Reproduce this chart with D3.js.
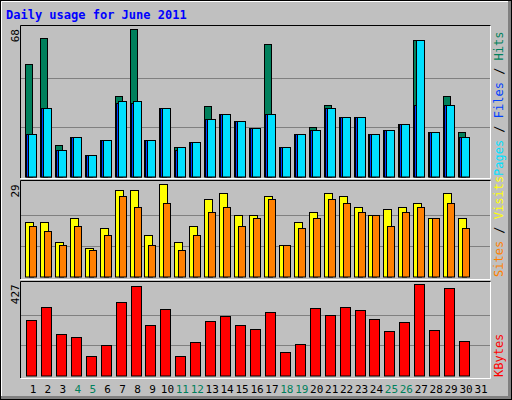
<!DOCTYPE html>
<html>
<head>
<meta charset="utf-8">
<script src="https://cdn.jsdelivr.net/npm/d3@7"></script>
<style>
  body { margin: 0; background: #fff; }
  text { font-family: 'DejaVu Sans Mono', monospace; }
</style>
</head>
<body>
<div id="chart"></div>
<script>
// daily values
const days = d3.range(1, 32)
const weekend = [4, 5, 11, 12, 18, 19, 25, 26]
const hits = [52, 64, 14.5, 18, 10, 17, 37, 68, 17, 31.5, 13.5, 16, 32.5, 29, 25.5, 22.3, 61, 13.5, 19.5, 23, 33, 27.4, 27.4, 19.5, 21.4, 24, 63, 20.5, 37, 20.5, 0]
const files = [19.5, 31.5, 12, 18, 10, 17, 34, 34, 17, 31.5, 12, 16, 26.5, 29, 25.5, 22.3, 29, 13.5, 19.5, 21.4, 31.5, 27.4, 27.4, 19.5, 21.4, 24, 33, 20.5, 33, 18, 0]
const pages = [19.5, 31.5, 12, 18, 10, 17, 35, 35, 17, 31.5, 13.5, 16, 26.5, 29, 25.5, 22.3, 29, 13.5, 19.5, 21.4, 31.5, 27.4, 27.4, 19.5, 21.4, 24, 63, 20.5, 33, 18, 0]
const visits = [17, 17, 11, 18.3, 9.1, 15.1, 27.1, 27.1, 13.2, 29, 11, 16, 24.3, 26.2, 19.2, 19.2, 25.2, 10, 17, 20.2, 26.2, 25.2, 22, 19.2, 21.1, 22, 23, 18.3, 26.2, 18.3, 0]
const sites = [16, 14.2, 10, 16, 8.2, 13.2, 25.2, 22, 10, 23, 8.2, 13.2, 20.2, 22, 16, 18.3, 24.3, 10, 15.1, 18.3, 24.3, 23, 20.2, 19.2, 16, 20.2, 22, 18.3, 23, 15.1, 0]
const kbytes = [258, 319, 192, 178, 89, 141, 342, 418, 235, 310, 89, 155, 253, 277, 235, 216, 295, 108, 146, 314, 282, 319, 305, 263, 207, 249, 427, 211, 412, 160, 0]

const W = 512, H = 400
const svg = d3.select('#chart').append('svg').attr('width', W).attr('height', H)

// frame
svg.append('rect').attr('x', 0).attr('y', 0).attr('width', W).attr('height', H).attr('fill', '#808080')
svg.append('rect').attr('x', 0).attr('y', 0).attr('width', W - 4).attr('height', H - 4).attr('fill', '#c0c0c0')
svg.append('rect').attr('x', 0.5).attr('y', 0.5).attr('width', W - 1).attr('height', H - 1)
    .attr('fill', 'none').attr('stroke', '#000')
svg.append('path').attr('d', 'M1.5,396V1.5H508').attr('fill', 'none').attr('stroke', '#fff')

svg.append('text').attr('x', 6).attr('y', 19).text('Daily usage for June 2011')
    .attr('fill', '#0000ff').attr('font-size', 12).attr('font-weight', 'bold')

const x = d3.scaleLinear().domain([1, 31]).range([33, 481])

const panels = [
    { top: 25, bottom: 178, y0: 176.5, y1: 29, max: 68 },
    { top: 180, bottom: 279, y0: 276.5, y1: 184.3, max: 29 },
    { top: 281, bottom: 378, y0: 375.5, y1: 284.3, max: 427 }
]

panels.forEach(p => {
    p.y = d3.scaleLinear().domain([0, p.max]).range([p.y0, p.y1])
    svg.append('rect').attr('x', 20).attr('y', p.top).attr('width', 471).attr('height', p.bottom - p.top)
        .attr('fill', '#c0c0c0')
    svg.append('path').attr('d', `M20.5,${p.bottom}V${p.top + 0.5}H491`).attr('fill', 'none').attr('stroke', '#000')
    svg.append('path').attr('d', `M20.5,${p.bottom + 0.5}H490.5V${p.top + 0.5}`).attr('fill', 'none').attr('stroke', '#fff')
    ;[1 / 3, 2 / 3].forEach(f => {
        const gy = Math.round(p.y(p.max * f)) + 0.5
        svg.append('line').attr('x1', 21).attr('x2', 490).attr('y1', gy).attr('y2', gy).attr('stroke', '#808080')
    })
    svg.append('text').attr('transform', `translate(19,${p.y1}) rotate(-90)`)
        .attr('text-anchor', 'end').attr('font-size', 11).attr('fill', '#000').text(p.max)
})

function drawBars(panel, values, x0, x1, color) {
    const g = svg.append('g')
    values.forEach((v, i) => {
        if (v <= 0) return
        const cx = Math.round(x(days[i]))
        const top = Math.round(panel.y(v))
        g.append('rect')
            .attr('x', cx + x0 + 0.5).attr('width', x1 - x0)
            .attr('y', top + 0.5).attr('height', panel.y0 - top)
            .attr('fill', color).attr('stroke', '#000')
    })
}

drawBars(panels[0], hits, -8, -1, '#00805c')
drawBars(panels[0], files, -7, 3, '#0040ff')
drawBars(panels[0], pages, -5, 3, '#00e0ff')
drawBars(panels[1], visits, -8, 0, '#ffff00')
drawBars(panels[1], sites, -4, 3, '#ff8000')
drawBars(panels[2], kbytes, -7, 3, '#ff0000')

// day labels
svg.append('g').selectAll('text').data(days).join('text')
    .attr('x', d => x(d)).attr('y', 393).attr('text-anchor', 'middle').attr('font-size', 11)
    .attr('fill', d => weekend.includes(d) ? '#00805c' : '#000').text(d => d)

// right legends
function legend(parts, yEnd) {
    const t = svg.append('text').attr('transform', `translate(503,${yEnd}) rotate(-90)`).attr('font-size', 12)
    parts.forEach(([s, c]) => t.append('tspan').attr('fill', c).text(s))
}
legend([['Pages', '#00e0ff'], [' / ', '#000'], ['Files', '#0040ff'], [' / ', '#000'], ['Hits', '#00805c']], 176)
legend([['Sites', '#ff8000'], [' / ', '#000'], ['Visits', '#ffff00']], 277)
legend([['KBytes', '#ff0000']], 377)
</script>
</body>
</html>
